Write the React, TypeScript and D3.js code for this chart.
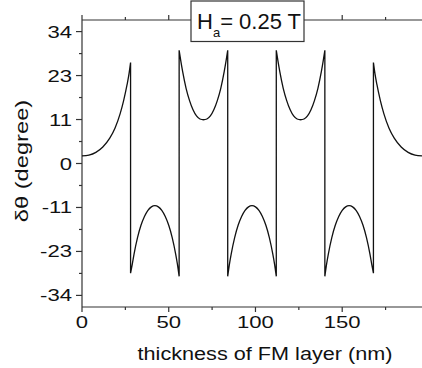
import React from 'react';
import * as d3 from 'd3';

// thickness (nm) vs delta theta (degree), one array per domain
const seg1 = [[0, 2.0], [4, 2.2], [8, 2.9], [12, 4.3], [16, 6.6], [19, 9.2], [22, 13.0], [24, 16.4], [26, 20.6], [27, 23.1], [28, 26.3]];
const seg2 = [[28, -28.6], [29, -26.2], [30, -23.6], [32, -19.3], [34, -16.1], [36, -13.8], [38, -12.2], [40, -11.3], [42, -11.0], [44, -11.3], [46, -12.2], [48, -13.8], [50, -16.1], [52, -19.3], [54, -23.6], [55, -26.2], [56, -29.4]];
const seg3 = [[56, 29.5], [57, 26.6], [58, 24.0], [60, 19.6], [62, 16.4], [64, 14.0], [66, 12.4], [68, 11.6], [70, 11.4], [72, 11.6], [74, 12.4], [76, 14.0], [78, 16.4], [80, 19.6], [82, 24.0], [83, 26.6], [84, 29.5]];
const seg4 = [[84, -29.4], [85, -26.2], [86, -23.6], [88, -19.3], [90, -16.1], [92, -13.8], [94, -12.2], [96, -11.3], [98, -11.0], [100, -11.3], [102, -12.2], [104, -13.8], [106, -16.1], [108, -19.3], [110, -23.6], [111, -26.2], [112, -29.4]];
const seg5 = [[112, 29.5], [113, 26.6], [114, 24.0], [116, 19.6], [118, 16.4], [120, 14.0], [122, 12.4], [124, 11.6], [126, 11.4], [128, 11.6], [130, 12.4], [132, 14.0], [134, 16.4], [136, 19.6], [138, 24.0], [139, 26.6], [140, 29.5]];
const seg6 = [[140, -29.4], [141, -26.2], [142, -23.6], [144, -19.3], [146, -16.1], [148, -13.8], [150, -12.2], [152, -11.3], [154, -11.0], [156, -11.3], [158, -12.2], [160, -13.8], [162, -16.1], [164, -19.3], [166, -23.6], [167, -26.2], [168, -28.6]];
const seg7 = [[168, 26.3], [169, 23.1], [170, 20.6], [172, 16.4], [174, 13.0], [177, 9.2], [180, 6.6], [184, 4.3], [188, 2.9], [192, 2.2], [196, 2.0]];
const segments = [seg1, seg2, seg3, seg4, seg5, seg6, seg7];

const xMajor = [0, 50, 100, 150];
const xMinor = [25, 75, 125, 175];
// ticks sit on multiples of 0.2 rad, labelled in rounded degrees
const yMajor = [-34.38, -22.92, -11.46, 0, 11.46, 22.92, 34.38];
const yLabels = ['-34', '-23', '-11', '0', '11', '23', '34'];
const yMinor = [-28.65, -17.19, -5.73, 5.73, 17.19, 28.65];

const W = 422;
const H = 368;
const left = 82, right = 422, top = 20, bottom = 307;
const font = '"Liberation Sans", Arial, sans-serif';
const axisColor = '#333';
const sx = 1.3; // labels look horizontally stretched

export default function App() {
  const x = d3.scaleLinear().domain([0, 196]).range([left, right]);
  const y = d3.scaleLinear().domain([-37.4, 37.4]).range([bottom, top]);

  const line = d3
    .line<number[]>()
    .x(d => x(d[0]))
    .y(d => y(d[1]))
    .curve(d3.curveMonotoneX);

  const path = segments.map((s, i) => {
    const p = line(s) || '';
    return i ? p.replace(/^M/, 'L') : p;
  }).join('');

  return (
    <svg width={W} height={H} style={{ position: 'absolute', left: 0, top: 0, background: '#fff' }}>
      <rect x={0} y={0} width={W} height={H} fill="#fff" />

      {/* frame */}
      <g stroke={axisColor} strokeWidth={1.2} fill="none">
        <line x1={left} y1={top} x2={left} y2={bottom} />
        <line x1={left} y1={bottom} x2={right} y2={bottom} />
        <line x1={left} y1={top} x2={right} y2={top} />
        {xMajor.map(v => (
          <g key={'xm' + v}>
            <line x1={x(v)} x2={x(v)} y1={bottom} y2={bottom + 5} />
            <line x1={x(v)} x2={x(v)} y1={top} y2={top - 5} />
          </g>
        ))}
        {xMinor.map(v => (
          <g key={'xn' + v}>
            <line x1={x(v)} x2={x(v)} y1={bottom} y2={bottom + 3} />
            <line x1={x(v)} x2={x(v)} y1={top} y2={top - 3} />
          </g>
        ))}
        {yMajor.map(v => (
          <line key={'ym' + v} x1={left - 6} x2={left} y1={y(v)} y2={y(v)} />
        ))}
        {yMinor.map(v => (
          <line key={'yn' + v} x1={left - 3} x2={left} y1={y(v)} y2={y(v)} />
        ))}
      </g>

      {/* tick labels */}
      <g fontFamily={font} fontSize={17} fill="#111">
        {xMajor.map(v => (
          <text key={'xl' + v} textAnchor="middle" transform={`translate(${x(v)},${bottom + 21}) scale(${sx},1)`}>
            {v}
          </text>
        ))}
        {yMajor.map((v, i) => (
          <text key={'yl' + v} textAnchor="end" transform={`translate(${left - 10},${y(v) + 6}) scale(${sx},1)`}>
            {yLabels[i]}
          </text>
        ))}
      </g>

      {/* axis titles */}
      <text fontFamily={font} fontSize={18.5} fill="#111" textAnchor="middle"
        transform={`translate(265,360) scale(1.17,1)`}>
        thickness of FM layer (nm)
      </text>
      <text fontFamily={font} fontSize={18.5} fill="#111" textAnchor="middle"
        transform={`translate(28,161) rotate(-90) scale(1.28,1)`}>
        δθ (degree)
      </text>

      {/* curve */}
      <path d={path} fill="none" stroke="#111" strokeWidth={1.3} />

      {/* field label */}
      <rect x={191} y={1} width={113} height={40.5} fill="#fff" stroke={axisColor} strokeWidth={1.2} />
      <text fontFamily={font} fill="#111" x={197} y={29} fontSize={22}>
        <tspan>H</tspan>
        <tspan fontSize={13} dy={8}>a</tspan>
        <tspan dy={-8}>= 0.25 T</tspan>
      </text>
    </svg>
  );
}
